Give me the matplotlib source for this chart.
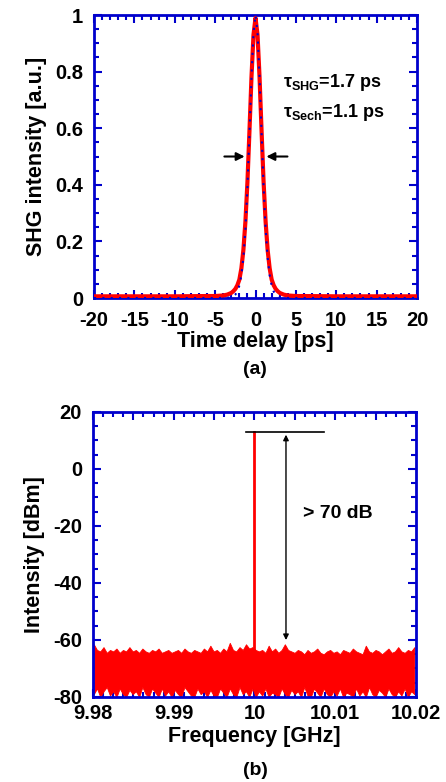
import matplotlib
matplotlib.use("Agg")
import matplotlib.pyplot as plt
import numpy as np
from matplotlib.ticker import MultipleLocator, FuncFormatter

# ---- (a) autocorrelation trace ----
delay = [-20, -15, -10, -6, -5, -4, -3.5, -3, -2.75, -2.5, -2.25, -2, -1.75, -1.5,
         -1.25, -1, -0.75, -0.5, -0.25, 0, 0.25, 0.5, 0.75, 1, 1.25, 1.5, 1.75, 2,
         2.25, 2.5, 2.75, 3, 3.5, 4, 5, 6, 10, 15, 20]
shg_meas = [0.006, 0.006, 0.006, 0.007, 0.007, 0.009, 0.012, 0.018, 0.024, 0.032,
            0.045, 0.065, 0.105, 0.17, 0.27, 0.41, 0.59, 0.78, 0.93, 0.99, 0.93,
            0.78, 0.59, 0.41, 0.27, 0.17, 0.105, 0.065, 0.045, 0.032, 0.024, 0.018,
            0.012, 0.009, 0.007, 0.007, 0.006, 0.006, 0.006]
shg_fit = [0.0, 0.0, 0.0, 0.0, 0.0, 0.0002, 0.001, 0.003, 0.006, 0.012, 0.023,
           0.044, 0.081, 0.144, 0.244, 0.39, 0.581, 0.78, 0.938, 1.0, 0.938, 0.78,
           0.581, 0.39, 0.244, 0.144, 0.081, 0.044, 0.023, 0.012, 0.006, 0.003,
           0.001, 0.0002, 0.0, 0.0, 0.0, 0.0, 0.0]

# ---- (b) RF spectrum: noise floor envelope ----
noise_top = [-61.5, -63.5, -64, -62.5, -64.5, -63.5, -64, -63, -64.5, -63.5,
             -64, -62.5, -64, -63.5, -64.5, -63, -64, -64.5, -63.5, -64,
             -63, -64.5, -64, -63.5, -64.5, -64, -63.5, -64.5, -63, -64,
             -64.5, -63.5, -64, -64.5, -63, -64, -62, -64, -63.5, -64.5,
             -63, -64, -61, -63.5, -64, -62.5, -63.5, -61.5, -63, -62.5,
             -63.5, -64, -63.5, -64.5, -62, -64, -63, -64.5, -63.5, -61.5,
             -63.5, -64, -64.5, -63.5, -64, -65, -63.5, -64.5, -64, -63,
             -64.5, -65, -64, -63.5, -64.5, -64, -65, -63.5, -64, -64.5,
             -63, -64, -64.5, -65, -62, -64, -64.5, -63.5, -64, -65,
             -64, -63, -64.5, -64, -62.5, -64, -64.5, -63.5, -64, -62.5]
noise_bot = [-79, -77, -80, -78, -76.5, -79.5, -78, -80, -77, -79,
             -80, -77.5, -79, -78, -80, -76.5, -79, -80, -77, -78.5,
             -80, -77, -79.5, -78, -80, -77.5, -79, -80, -76.5, -78,
             -79.5, -80, -77, -79, -78, -80, -77.5, -79.5, -80, -77,
             -78.5, -80, -77, -79, -80, -76.5, -79, -78, -80, -77,
             -80, -78, -79.5, -77, -80, -78.5, -79, -80, -77, -79,
             -80, -77.5, -79, -78, -80, -76.5, -79.5, -80, -77, -78.5,
             -80, -77, -79, -80, -78, -79.5, -77, -80, -78.5, -79,
             -80, -77, -79.5, -78, -80, -76.5, -79, -80, -77.5, -78.5,
             -80, -77, -79, -80, -78, -79.5, -77, -80, -78, -79]
freq_noise = np.linspace(9.9801, 10.0198, len(noise_top))
carrier_freq = 10.0
carrier_level = 13
floor_level = -61

plt.rcParams['font.family'] = ['Liberation Sans', 'DejaVu Sans']
plt.rcParams['font.weight'] = 'bold'
plt.rcParams['axes.unicode_minus'] = False
plt.rcParams['mathtext.fontset'] = 'custom'
plt.rcParams['mathtext.rm'] = 'Liberation Sans:bold'
plt.rcParams['mathtext.it'] = 'Liberation Sans:bold'
plt.rcParams['mathtext.bf'] = 'Liberation Sans:bold'

blue = '#0000cc'
red = '#ff0000'

fig = plt.figure(figsize=(4.46, 7.82), dpi=100)
ax1 = fig.add_axes([0.2108, 0.6189, 0.7242, 0.3619])
ax2 = fig.add_axes([0.2085, 0.1087, 0.7242, 0.3645])


def style_axes(ax):
    for s in ax.spines.values():
        s.set_color(blue)
        s.set_linewidth(2)
    ax.tick_params(which='both', direction='in', top=True, right=True,
                   color=blue, width=1.5, labelsize=14.5)
    ax.tick_params(which='major', length=6)
    ax.tick_params(which='minor', length=3.5)
    for lab in ax.get_xticklabels() + ax.get_yticklabels():
        lab.set_fontweight('bold')


# panel (a)
ax1.plot(delay, shg_meas, color=red, lw=3, zorder=3)
ax1.plot(delay, shg_fit, color=blue, lw=1.5, ls=(0, (1, 3)), zorder=4)
ax1.set_xlim(-20, 20)
ax1.set_ylim(0, 1)
ax1.xaxis.set_major_locator(MultipleLocator(5))
ax1.xaxis.set_minor_locator(MultipleLocator(1))
ax1.yaxis.set_major_locator(MultipleLocator(0.2))
ax1.yaxis.set_minor_locator(MultipleLocator(0.05))
ax1.yaxis.set_major_formatter(FuncFormatter(lambda v, p: f"{v:g}"))
style_axes(ax1)
ax1.tick_params(axis='x', pad=9)
ax1.tick_params(axis='y', pad=8)
ax1.set_xlabel('Time delay [ps]', fontsize=15.5, fontweight='bold', labelpad=1)
ax1.set_ylabel('SHG intensity [a.u.]', fontsize=15.5, fontweight='bold', labelpad=6)
ax1.annotate('', xy=(-1.0, 0.5), xytext=(-4.2, 0.5),
             arrowprops=dict(arrowstyle='-|>', color='black', lw=1.5, mutation_scale=12))
ax1.annotate('', xy=(1.0, 0.5), xytext=(4.3, 0.5),
             arrowprops=dict(arrowstyle='-|>', color='black', lw=1.5, mutation_scale=12))
ax1.text(3.4, 0.76, r'$\tau_{SHG}$=1.7 ps', fontsize=13, fontweight='bold', va='center')
ax1.text(3.4, 0.655, r'$\tau_{Sech}$=1.1 ps', fontsize=13, fontweight='bold', va='center')
fig.text(0.572, 0.527, '(a)', fontsize=14, fontweight='bold', ha='center', va='center')

# panel (b)
ax2.fill_between(freq_noise, noise_bot, noise_top, color=red, lw=0.6, edgecolor=red, zorder=2)
ax2.plot([carrier_freq, carrier_freq], [-66, carrier_level], color=red, lw=2, zorder=3)
ax2.plot([9.9989, 10.0086], [carrier_level, carrier_level], color='black', lw=1.2, zorder=4)
ax2.annotate('', xy=(10.0039, carrier_level), xytext=(10.0039, floor_level),
             arrowprops=dict(arrowstyle='<|-|>', color='black', lw=1, mutation_scale=8))
ax2.text(10.0103, -15.5, '> 70 dB', fontsize=14, fontweight='bold', ha='center', va='center')
ax2.set_xlim(9.98, 10.02)
ax2.set_ylim(-80, 20)
ax2.xaxis.set_major_locator(MultipleLocator(0.005))
ax2.xaxis.set_minor_locator(MultipleLocator(0.00125))
ax2.xaxis.set_major_formatter(FuncFormatter(
    lambda v, p: f"{v:g}" if abs(round(v * 100) - v * 100) < 1e-6 else ''))
ax2.yaxis.set_major_locator(MultipleLocator(20))
ax2.yaxis.set_minor_locator(MultipleLocator(5))
style_axes(ax2)
ax2.tick_params(axis='x', pad=5)
ax2.tick_params(axis='y', pad=8)
ax2.set_xlabel('Frequency [GHz]', fontsize=15.5, fontweight='bold', labelpad=2)
ax2.set_ylabel('Intensity [dBm]', fontsize=15.5, fontweight='bold', labelpad=6)
fig.text(0.572, 0.015, '(b)', fontsize=14, fontweight='bold', ha='center', va='center')

fig.savefig('out.png', dpi=100)
